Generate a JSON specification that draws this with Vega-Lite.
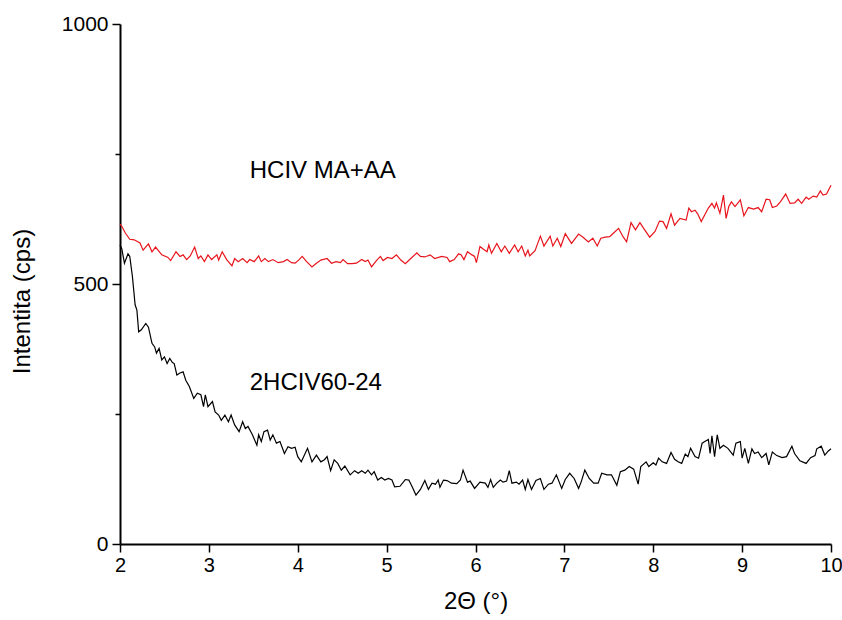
{
  "$schema": "https://vega.github.io/schema/vega-lite/v6.json",
  "width": 711,
  "height": 520,
  "autosize": "none",
  "padding": {"left": 120, "top": 24, "right": 11, "bottom": 76},
  "background": "white",
  "config": {
    "view": {"stroke": null},
    "font": "Liberation Sans",
    "axis": {"grid": false, "labelFont": "Liberation Sans", "titleFont": "Liberation Sans", "titleFontWeight": "normal", "domainColor": "black", "domainWidth": 2, "tickColor": "black", "labelColor": "black", "titleColor": "black"}
  },
  "datasets": {
    "red": [
      {"x":2.00,"y":615},{"x":2.02,"y":611},{"x":2.06,"y":598},{"x":2.11,"y":586},{"x":2.16,"y":585},{"x":2.225,"y":579},{"x":2.26,"y":565},{"x":2.32,"y":577},{"x":2.36,"y":562},{"x":2.40,"y":571},{"x":2.47,"y":556},{"x":2.54,"y":551},{"x":2.57,"y":545},{"x":2.63,"y":562},{"x":2.675,"y":553},{"x":2.71,"y":556},{"x":2.75,"y":547},{"x":2.79,"y":554},{"x":2.84,"y":571},{"x":2.88,"y":549},{"x":2.91,"y":554},{"x":2.95,"y":543},{"x":2.99,"y":556},{"x":3.03,"y":547},{"x":3.09,"y":556},{"x":3.11,"y":546},{"x":3.15,"y":562},{"x":3.20,"y":547},{"x":3.26,"y":535},{"x":3.29,"y":549},{"x":3.33,"y":543},{"x":3.38,"y":549},{"x":3.43,"y":541},{"x":3.46,"y":547},{"x":3.51,"y":543},{"x":3.56,"y":554},{"x":3.59,"y":543},{"x":3.63,"y":549},{"x":3.67,"y":543},{"x":3.72,"y":547},{"x":3.78,"y":541},{"x":3.84,"y":543},{"x":3.88,"y":547},{"x":3.93,"y":541},{"x":3.97,"y":540},{"x":4.01,"y":546},{"x":4.05,"y":553},{"x":4.10,"y":543},{"x":4.16,"y":533},{"x":4.21,"y":540},{"x":4.26,"y":546},{"x":4.33,"y":549},{"x":4.38,"y":540},{"x":4.43,"y":543},{"x":4.48,"y":541},{"x":4.51,"y":547},{"x":4.56,"y":539},{"x":4.61,"y":539},{"x":4.66,"y":540},{"x":4.72,"y":547},{"x":4.76,"y":543},{"x":4.79,"y":546},{"x":4.83,"y":533},{"x":4.89,"y":546},{"x":4.93,"y":553},{"x":4.96,"y":545},{"x":5.01,"y":551},{"x":5.06,"y":549},{"x":5.11,"y":556},{"x":5.16,"y":546},{"x":5.21,"y":539},{"x":5.26,"y":547},{"x":5.34,"y":560},{"x":5.38,"y":553},{"x":5.43,"y":552},{"x":5.49,"y":556},{"x":5.54,"y":549},{"x":5.62,"y":553},{"x":5.68,"y":551},{"x":5.71,"y":543},{"x":5.76,"y":547},{"x":5.81,"y":558},{"x":5.84,"y":556},{"x":5.87,"y":547},{"x":5.91,"y":562},{"x":5.96,"y":556},{"x":5.99,"y":553},{"x":6.01,"y":541},{"x":6.05,"y":572},{"x":6.09,"y":567},{"x":6.13,"y":562},{"x":6.15,"y":575},{"x":6.18,"y":559},{"x":6.24,"y":578},{"x":6.29,"y":562},{"x":6.33,"y":573},{"x":6.38,"y":559},{"x":6.44,"y":575},{"x":6.48,"y":562},{"x":6.52,"y":573},{"x":6.56,"y":554},{"x":6.59,"y":565},{"x":6.61,"y":554},{"x":6.67,"y":564},{"x":6.73,"y":592},{"x":6.77,"y":573},{"x":6.84,"y":592},{"x":6.87,"y":573},{"x":6.92,"y":588},{"x":6.96,"y":572},{"x":7.01,"y":597},{"x":7.08,"y":578},{"x":7.16,"y":596},{"x":7.21,"y":590},{"x":7.27,"y":581},{"x":7.32,"y":588},{"x":7.37,"y":573},{"x":7.41,"y":588},{"x":7.46,"y":590},{"x":7.51,"y":591},{"x":7.56,"y":599},{"x":7.61,"y":607},{"x":7.66,"y":591},{"x":7.70,"y":581},{"x":7.75,"y":618},{"x":7.80,"y":604},{"x":7.85,"y":618},{"x":7.90,"y":605},{"x":7.96,"y":590},{"x":8.02,"y":601},{"x":8.07,"y":621},{"x":8.11,"y":620},{"x":8.15,"y":607},{"x":8.20,"y":635},{"x":8.24,"y":613},{"x":8.30,"y":626},{"x":8.37,"y":623},{"x":8.40,"y":646},{"x":8.43,"y":639},{"x":8.47,"y":642},{"x":8.50,"y":635},{"x":8.54,"y":620},{"x":8.58,"y":633},{"x":8.62,"y":646},{"x":8.66,"y":655},{"x":8.69,"y":646},{"x":8.71,"y":656},{"x":8.75,"y":636},{"x":8.79,"y":671},{"x":8.82,"y":626},{"x":8.85,"y":649},{"x":8.88,"y":658},{"x":8.92,"y":649},{"x":8.98,"y":662},{"x":9.02,"y":631},{"x":9.07,"y":647},{"x":9.13,"y":644},{"x":9.18,"y":647},{"x":9.22,"y":639},{"x":9.27,"y":663},{"x":9.31,"y":662},{"x":9.34,"y":647},{"x":9.39,"y":650},{"x":9.43,"y":658},{"x":9.49,"y":673},{"x":9.54,"y":655},{"x":9.59,"y":656},{"x":9.63,"y":663},{"x":9.67,"y":655},{"x":9.72,"y":667},{"x":9.75,"y":663},{"x":9.80,"y":669},{"x":9.84,"y":667},{"x":9.88,"y":679},{"x":9.91,"y":671},{"x":9.95,"y":673},{"x":10.00,"y":690}
    ],
    "black": [
      {"x":2.00,"y":575},{"x":2.02,"y":568},{"x":2.05,"y":540},{"x":2.09,"y":558},{"x":2.11,"y":553},{"x":2.14,"y":514},{"x":2.17,"y":460},{"x":2.19,"y":450},{"x":2.21,"y":408},{"x":2.24,"y":412},{"x":2.29,"y":424},{"x":2.32,"y":417},{"x":2.36,"y":386},{"x":2.39,"y":379},{"x":2.41,"y":367},{"x":2.44,"y":376},{"x":2.47,"y":354},{"x":2.50,"y":360},{"x":2.53,"y":347},{"x":2.56,"y":357},{"x":2.59,"y":349},{"x":2.61,"y":347},{"x":2.64,"y":325},{"x":2.675,"y":329},{"x":2.71,"y":331},{"x":2.74,"y":315},{"x":2.78,"y":303},{"x":2.83,"y":280},{"x":2.87,"y":290},{"x":2.91,"y":287},{"x":2.94,"y":264},{"x":2.96,"y":287},{"x":2.99,"y":264},{"x":3.04,"y":274},{"x":3.07,"y":254},{"x":3.11,"y":248},{"x":3.14,"y":238},{"x":3.18,"y":248},{"x":3.22,"y":235},{"x":3.25,"y":248},{"x":3.29,"y":229},{"x":3.34,"y":216},{"x":3.38,"y":235},{"x":3.41,"y":222},{"x":3.44,"y":226},{"x":3.49,"y":210},{"x":3.54,"y":190},{"x":3.56,"y":210},{"x":3.59,"y":197},{"x":3.62,"y":216},{"x":3.66,"y":219},{"x":3.69,"y":200},{"x":3.72,"y":210},{"x":3.76,"y":194},{"x":3.80,"y":197},{"x":3.85,"y":174},{"x":3.89,"y":187},{"x":3.93,"y":184},{"x":3.97,"y":186},{"x":4.00,"y":168},{"x":4.04,"y":158},{"x":4.11,"y":184},{"x":4.16,"y":158},{"x":4.21,"y":171},{"x":4.26,"y":158},{"x":4.30,"y":162},{"x":4.33,"y":168},{"x":4.37,"y":141},{"x":4.41,"y":162},{"x":4.45,"y":155},{"x":4.49,"y":142},{"x":4.53,"y":150},{"x":4.59,"y":133},{"x":4.64,"y":141},{"x":4.68,"y":136},{"x":4.72,"y":141},{"x":4.76,"y":136},{"x":4.79,"y":142},{"x":4.83,"y":133},{"x":4.86,"y":139},{"x":4.90,"y":123},{"x":4.94,"y":128},{"x":4.98,"y":123},{"x":5.02,"y":126},{"x":5.06,"y":123},{"x":5.09,"y":110},{"x":5.15,"y":111},{"x":5.21,"y":124},{"x":5.25,"y":123},{"x":5.29,"y":109},{"x":5.33,"y":94},{"x":5.38,"y":105},{"x":5.43,"y":122},{"x":5.47,"y":105},{"x":5.51,"y":117},{"x":5.55,"y":115},{"x":5.58,"y":123},{"x":5.60,"y":109},{"x":5.64,"y":123},{"x":5.68,"y":122},{"x":5.73,"y":117},{"x":5.79,"y":116},{"x":5.83,"y":123},{"x":5.86,"y":142},{"x":5.91,"y":119},{"x":5.94,"y":121},{"x":5.99,"y":107},{"x":6.05,"y":119},{"x":6.11,"y":117},{"x":6.14,"y":109},{"x":6.17,"y":124},{"x":6.20,"y":109},{"x":6.24,"y":117},{"x":6.28,"y":123},{"x":6.31,"y":119},{"x":6.35,"y":121},{"x":6.38,"y":141},{"x":6.41,"y":117},{"x":6.46,"y":119},{"x":6.49,"y":115},{"x":6.53,"y":123},{"x":6.56,"y":105},{"x":6.59,"y":124},{"x":6.63,"y":105},{"x":6.68,"y":122},{"x":6.73,"y":126},{"x":6.77,"y":105},{"x":6.82,"y":115},{"x":6.86,"y":117},{"x":6.91,"y":133},{"x":6.97,"y":107},{"x":7.01,"y":124},{"x":7.06,"y":136},{"x":7.11,"y":126},{"x":7.16,"y":107},{"x":7.19,"y":120},{"x":7.23,"y":142},{"x":7.28,"y":126},{"x":7.33,"y":117},{"x":7.38,"y":117},{"x":7.42,"y":136},{"x":7.48,"y":133},{"x":7.53,"y":133},{"x":7.59,"y":113},{"x":7.63,"y":139},{"x":7.68,"y":142},{"x":7.73,"y":149},{"x":7.78,"y":144},{"x":7.83,"y":115},{"x":7.86,"y":149},{"x":7.92,"y":158},{"x":7.95,"y":149},{"x":8.00,"y":156},{"x":8.03,"y":152},{"x":8.06,"y":165},{"x":8.10,"y":158},{"x":8.15,"y":155},{"x":8.20,"y":176},{"x":8.24,"y":163},{"x":8.28,"y":158},{"x":8.32,"y":155},{"x":8.36,"y":173},{"x":8.39,"y":168},{"x":8.42,"y":184},{"x":8.47,"y":168},{"x":8.51,"y":165},{"x":8.55,"y":194},{"x":8.58,"y":197},{"x":8.62,"y":201},{"x":8.64,"y":174},{"x":8.66,"y":208},{"x":8.69,"y":168},{"x":8.72,"y":210},{"x":8.75,"y":184},{"x":8.79,"y":190},{"x":8.84,"y":184},{"x":8.90,"y":171},{"x":8.93,"y":194},{"x":8.98,"y":197},{"x":9.00,"y":165},{"x":9.03,"y":184},{"x":9.07,"y":155},{"x":9.11,"y":183},{"x":9.14,"y":174},{"x":9.18,"y":177},{"x":9.22,"y":166},{"x":9.27,"y":174},{"x":9.30,"y":152},{"x":9.34,"y":177},{"x":9.39,"y":170},{"x":9.45,"y":166},{"x":9.50,"y":168},{"x":9.56,"y":188},{"x":9.59,"y":174},{"x":9.65,"y":160},{"x":9.72,"y":155},{"x":9.77,"y":166},{"x":9.82,"y":170},{"x":9.84,"y":183},{"x":9.89,"y":188},{"x":9.93,"y":171},{"x":9.97,"y":179},{"x":10.00,"y":183}
    ],
    "labels": [
      {"t":"HCIV MA+AA","x":3.46,"y":717},
      {"t":"2HCIV60-24","x":3.46,"y":310}
    ]
  },
  "encoding": {
    "x": {"field":"x","type":"quantitative","scale":{"domain":[2,10],"nice":false,"zero":false},
      "axis":{"title":"2Θ (°)","values":[2,2.5,3,3.5,4,4.5,5,5.5,6,6.5,7,7.5,8,8.5,9,9.5,10],
        "format":"d",
        "labelExpr":"datum.value % 1 === 0 ? format(datum.value, 'd') : ''",
        "tickSize":{"condition":{"test":"datum.value % 1 === 0","value":8},"value":5},
        "tickWidth":1.5,"labelFontSize":20,"labelPadding":3,"titleFontSize":24,"titlePadding":14,"labelFlush":false}},
    "y": {"field":"y","type":"quantitative","scale":{"domain":[0,1000],"nice":false},
      "axis":{"title":"Intentita (cps)","values":[0,250,500,750,1000],
        "labelExpr":"datum.value % 500 === 0 ? format(datum.value, 'd') : ''",
        "format":"d",
        "tickSize":{"condition":{"test":"datum.value % 500 === 0","value":8},"value":5},
        "tickWidth":1.5,"labelFontSize":21,"labelPadding":4,"titleFontSize":24,"titlePadding":27,"titleY":277,"labelFlush":false}}
  },
  "layer": [
    {"data":{"name":"red"},"mark":{"type":"line","color":"#e8141c","strokeWidth":1.2}},
    {"data":{"name":"black"},"mark":{"type":"line","color":"#000000","strokeWidth":1.2}},
    {"data":{"name":"labels"},"mark":{"type":"text","align":"left","baseline":"middle","fontSize":24,"font":"Liberation Sans","color":"black"},
      "encoding":{"text":{"field":"t","type":"nominal"}}}
  ]
}
